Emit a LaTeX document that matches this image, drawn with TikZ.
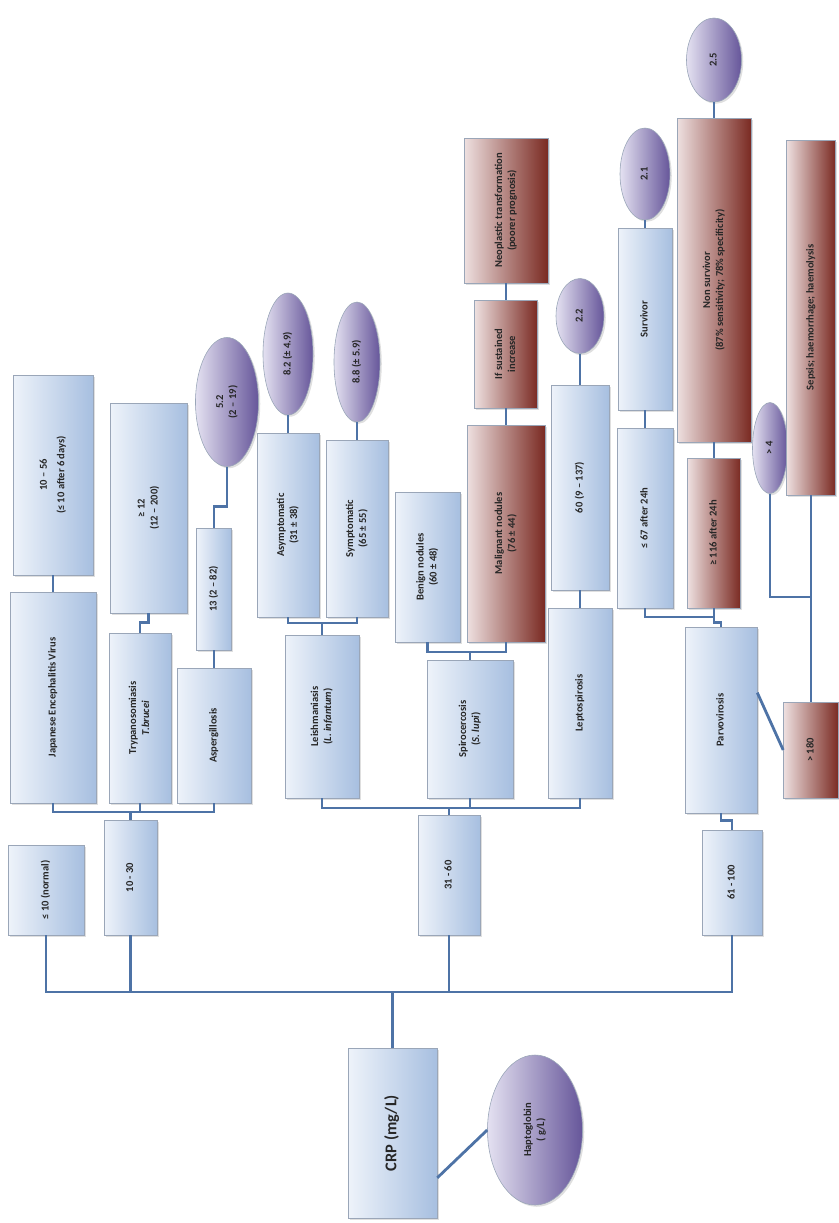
\documentclass[tikz,border=0pt]{standalone}
\usepackage{fontspec}
\setmainfont{Carlito}
\usepackage{graphicx}
\usetikzlibrary{shapes.geometric,shadows}

\definecolor{boxlight}{HTML}{EEF3FA}
\definecolor{boxblue}{HTML}{A7BFE0}
\definecolor{redlight}{HTML}{EEE0E0}
\definecolor{reddark}{HTML}{7A2A22}
\definecolor{purplight}{HTML}{E4E1F1}
\definecolor{purpdark}{HTML}{66569A}
\definecolor{linkblue}{HTML}{4E73A6}
\definecolor{edgegray}{HTML}{9AA6B8}

\newcommand{\vt}[1]{\rotatebox{90}{\begin{tabular}{@{}c@{}}#1\end{tabular}}}

\tikzset{
  sz/.style 2 args={minimum width=#1*0.03cm, minimum height=#2*0.03cm},
  bluebox/.style={draw=edgegray, line width=0.5pt, left color=boxlight, right color=boxblue,
    inner sep=0pt, font=\fontsize{9}{11}\selectfont\bfseries, text=black!85,
    drop shadow={opacity=0.25,shadow xshift=1.5pt,shadow yshift=-1.5pt}},
  redbox/.style={bluebox, left color=redlight, right color=reddark},
  oval/.style={bluebox, ellipse, left color=purplight, right color=purpdark},
  link/.style={draw=linkblue, line width=2.4pt},
}

\begin{document}
\begin{tikzpicture}[x=0.03cm,y=-0.03cm]
\useasboundingbox (0,0) rectangle (839,1223);

\node[bluebox,sz={89}{170},font=\fontsize{14}{16}\selectfont\bfseries] (crp) at (392.5,1133) {\vt{CRP (mg/L)}};
\node[oval,sz={95}{150}] (hapto) at (535,1130) {\vt{Haptoglobin\\( g/L)}};
\node[bluebox,sz={76}{90}] (normal) at (46,890) {\vt{≤ 10 (normal)}};
\node[bluebox,sz={53}{115}] (r1030) at (130.5,877.5) {\vt{10 - 30}};
\node[bluebox,sz={62}{120}] (r3160) at (449,875) {\vt{31 - 60}};
\node[bluebox,sz={60}{105}] (r61100) at (732,882.5) {\vt{61 - 100}};

\node[bluebox,sz={86}{211}] (jev) at (53,697.5) {\vt{Japanese Encephalitis Virus}};
\node[bluebox,sz={80}{200}] (jevval) at (53,475) {\vt{10 – 56\\[4pt](≤ 10 after 6 days)}};
\node[bluebox,sz={62}{170}] (tryp) at (140,718) {\vt{Trypanosomiasis\\\textit{T.brucei}}};
\node[bluebox,sz={77}{210}] (trypval) at (148.5,508) {\vt{≥ 12\\(12 – 200)}};
\node[bluebox,sz={74}{135}] (asper) at (214,735.5) {\vt{Aspergillosis}};
\node[bluebox,sz={35}{122}] (asperval) at (214,589) {\vt{13 (2 – 82)}};
\node[oval,sz={63}{129}] (asperell) at (227,402) {\vt{5.2\\(2 – 19)}};

\node[bluebox,sz={74}{163}] (leish) at (322,716.5) {\vt{Leishmaniasis\\(\textit{L. infantum})}};
\node[bluebox,sz={62}{184}] (asym) at (288,525) {\vt{Asymptomatic\\(31 ± 38)}};
\node[bluebox,sz={62}{177}] (sym) at (357,528.5) {\vt{Symptomatic\\(65 ± 55)}};
\node[oval,sz={50}{122}] (asymell) at (288,354) {\vt{8.2 (± 4.9)}};
\node[oval,sz={46}{120}] (symell) at (357,362) {\vt{8.8 (± 5.9)}};

\node[bluebox,sz={86}{138}] (spiro) at (470,729) {\vt{Spirocercosis\\(\textit{S. lupi})}};
\node[bluebox,sz={65}{150}] (benign) at (427.5,567) {\vt{Benign nodules\\(60 ± 48)}};
\node[redbox,sz={78}{217}] (malig) at (506,533.5) {\vt{Malignant nodules\\(76 ± 44)}};
\node[redbox,sz={63}{108}] (sust) at (506,354) {\vt{If sustained\\increase}};
\node[redbox,sz={84}{145}] (neo) at (506,210.5) {\vt{Neoplastic transformation\\(poorer prognosis)}};

\node[bluebox,sz={64}{190}] (lepto) at (580,703) {\vt{Leptospirosis}};
\node[bluebox,sz={58}{205}] (leptoval) at (580,487.5) {\vt{60 (9 – 137)}};
\node[oval,sz={48}{75}] (leptoell) at (580,316) {\vt{2.2}};

\node[bluebox,sz={72}{186}] (parvo) at (721,720) {\vt{Parvovirosis}};
\node[bluebox,sz={56}{180}] (le67) at (645,518) {\vt{≤ 67 after 24h}};
\node[redbox,sz={53}{150}] (ge116) at (714,533) {\vt{≥ 116 after 24h}};
\node[bluebox,sz={54}{182}] (surv) at (645,319) {\vt{Survivor}};
\node[oval,sz={50}{92}] (survell) at (645,174) {\vt{2.1}};
\node[redbox,sz={74}{324}] (nonsurv) at (714,280) {\vt{Non survivor\\(87\% sensitivity; 78\% specificity)}};
\node[oval,sz={55}{84}] (nonsurvell) at (714,60) {\vt{2.5}};
\node[redbox,sz={55}{96}] (gt180) at (811,750) {\vt{> 180}};
\node[oval,sz={35}{91}] (gt4) at (770,448) {\vt{> 4}};
\node[redbox,sz={49}{355}] (sepsis) at (811,317.5) {\vt{Sepsis; haemorrhage; haemolysis}};

\coordinate (b0) at (392.5,992);
\coordinate (b1) at (130.5,812);
\coordinate (b2) at (449,808);
\coordinate (b3) at (322,623);
\coordinate (b4) at (470,652);
\coordinate (b5) at (714,617);
\coordinate (b6) at (811,597);

\draw[link] (crp.north) -- (b0);
\draw[link] (normal.south) |- (b0);
\draw[link] (r1030.south) |- (b0);
\draw[link] (r3160.south) |- (b0);
\draw[link] (r61100.south) |- (b0);
\draw[link] (crp.-45) -- (hapto.west);

\draw[link] (r1030.north) -- (b1);
\draw[link] (jev.south) |- (b1);
\draw[link] (tryp.south) |- (b1);
\draw[link] (asper.south) |- (b1);
\draw[link] (jev.north) -- (jevval.south);
\draw[link] (tryp.north) -- ++(0,-10) -| (trypval.south);
\draw[link] (asper.north) -- (asperval.south);
\draw[link] (asperval.north) -- ++(0,-21) -| (asperell.south);

\draw[link] (r3160.north) -- (b2);
\draw[link] (leish.south) |- (b2);
\draw[link] (spiro.south) |- (b2);
\draw[link] (lepto.south) |- (b2);
\draw[link] (leish.north) -- (b3);
\draw[link] (asym.south) |- (b3);
\draw[link] (sym.south) |- (b3);
\draw[link] (asym.north) -- (asymell.south);
\draw[link] (sym.north) -- (symell.south);
\draw[link] (spiro.north) -- (b4);
\draw[link] (benign.south) |- (b4);
\draw[link] (malig.south) |- (b4);
\draw[link] (malig.north) -- (sust.south);
\draw[link] (sust.north) -- (neo.south);
\draw[link] (lepto.north) -- (leptoval.south);
\draw[link] (leptoval.north) -- (leptoell.south);

\draw[link] (parvo.south) -- ++(0,7) -| (r61100.north);
\draw[link] (parvo.north) -- ++(0,-4) -| (b5);
\draw[link] (le67.south) |- (b5);
\draw[link] (ge116.south) -- (b5);
\draw[link] (le67.north) -- (surv.south);
\draw[link] (surv.north) -- (survell.south);
\draw[link] (ge116.north) -- (nonsurv.south);
\draw[link] (nonsurv.north) -- (nonsurvell.south);
\draw[link] (parvo.37) -- (gt180.west);
\draw[link] (gt180.north) -- (sepsis.south);
\draw[link] (gt4.south) |- (b6);
\end{tikzpicture}
\end{document}
